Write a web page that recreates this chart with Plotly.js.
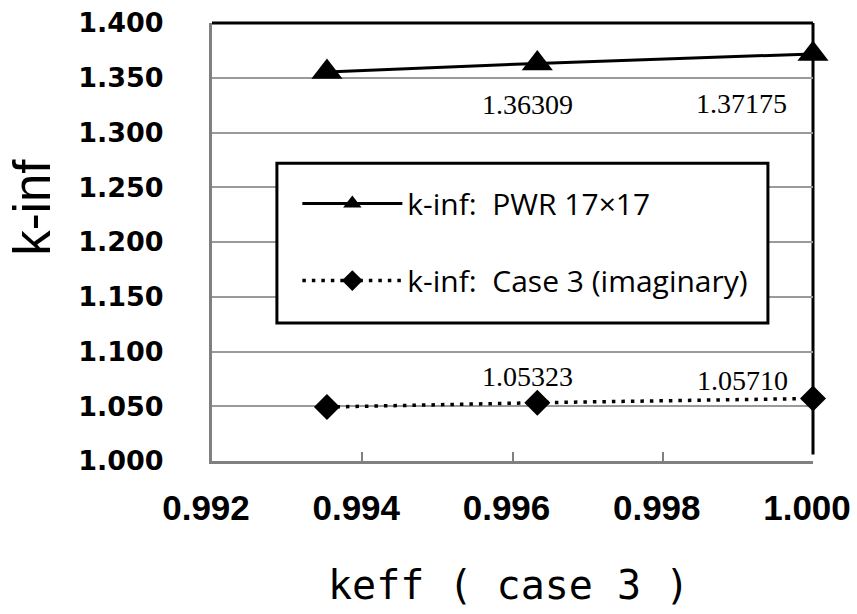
<!DOCTYPE html>
<html>
<head>
<meta charset="utf-8">
<script src="https://cdn.plot.ly/plotly-3.0.1.min.js"></script>
<style>html,body{margin:0;padding:0;background:#fff;}</style>
</head>
<body>
<div id="chart" style="width:857px;height:614px;"></div>
<script>
// Data
const keff = [0.99353, 0.99633, 1.00000];
const kinfPWR = [1.35530, 1.36309, 1.37175];
const kinfCase3 = [1.04930, 1.05323, 1.05710];
const seriesNames = ['k-inf:\u00a0 PWR 17×17', 'k-inf:\u00a0 Case 3 (imaginary)'];
const xTitle = 'keff ( case 3 )';
const yTitle = 'k-inf';

const traces = [
  {
    x: keff, y: kinfPWR, name: seriesNames[0], type: 'scatter', mode: 'lines+markers',
    line: {color: '#000', width: 3},
    marker: {symbol: 'triangle-up', size: 27, color: '#000'},
    cliponaxis: false, legendgroup: 'a'
  },
  {
    x: keff, y: kinfCase3, name: seriesNames[1], type: 'scatter', mode: 'lines+markers',
    line: {color: '#000', width: 3.5, dash: '3.5px,6px'},
    marker: {symbol: 'diamond', size: 20, color: '#000'},
    cliponaxis: false, legendgroup: 'b'
  }
];

const labelFont = {family: 'Liberation Serif, Times New Roman, serif', size: 28, color: '#000'};
const annotations = [
  {x: keff[1], y: kinfPWR[1], text: kinfPWR[1].toFixed(5), xshift: -10, yshift: -41},
  {x: keff[2], y: kinfPWR[2], text: kinfPWR[2].toFixed(5), xshift: -71, yshift: -50},
  {x: keff[1], y: kinfCase3[1], text: kinfCase3[1].toFixed(5), xshift: -10, yshift: 26},
  {x: keff[2], y: kinfCase3[2], text: kinfCase3[2].toFixed(5), xshift: -70, yshift: 18}
].map(a => Object.assign({xref: 'x', yref: 'y', showarrow: false, font: labelFont}, a));

annotations.push({
  xref: 'paper', yref: 'paper', x: -0.298, y: 0.58, text: yTitle, textangle: -90,
  showarrow: false, xanchor: 'center', yanchor: 'middle',
  font: {family: 'Liberation Sans, Arial, sans-serif', size: 51, color: '#000'}
});
annotations.push({
  xref: 'paper', yref: 'paper', x: 0.493, y: -0.283, text: xTitle,
  showarrow: false, xanchor: 'center', yanchor: 'middle',
  font: {family: 'DejaVu Sans Mono, monospace', size: 40, color: '#000'}
});

const layout = {
  width: 857, height: 614,
  margin: {l: 212, r: 44, t: 23, b: 153},
  paper_bgcolor: '#fff', plot_bgcolor: '#fff',
  showlegend: true,
  legend: {
    x: 0.142, y: 0.647, xanchor: 'left', yanchor: 'top',
    bgcolor: 'rgba(0,0,0,0)', borderwidth: 0,
    traceorder: 'grouped', tracegroupgap: 35, itemwidth: 100,
    font: {family: 'Open Sans, Noto Sans, sans-serif', size: 30, color: '#000'}
  },
  xaxis: {
    range: [0.992, 1.0000001], dtick: 0.002, tick0: 0.992, tickformat: '.3f',
    showgrid: false, zeroline: false,
    showline: true, linecolor: '#808080', linewidth: 3,
    ticks: 'inside', ticklen: 9, tickwidth: 2, tickcolor: '#808080',
    ticklabelstandoff: 14, ticklabelshift: -6,
    tickfont: {family: 'Liberation Sans, Arial, sans-serif', size: 35, color: '#000', weight: 'bold'}
  },
  yaxis: {
    range: [1.0, 1.4], dtick: 0.05, tick0: 1.0, tickformat: '.3f',
    showgrid: true, gridcolor: '#9a9a9a', gridwidth: 2, zeroline: false,
    showline: true, linecolor: '#808080', linewidth: 3,
    ticks: '', ticklabelstandoff: 40,
    tickfont: {family: 'DejaVu Sans, sans-serif', size: 27, color: '#000', weight: 'bold'}
  },
  shapes: [
    {type: 'line', xref: 'paper', yref: 'paper', x0: 0, x1: 1, y0: 1, y1: 1, line: {color: '#000', width: 3}},
    {type: 'line', xref: 'paper', yref: 'paper', x0: 1, x1: 1, y0: 0.015, y1: 1, line: {color: '#000', width: 3}, layer: 'below'},
    {type: 'rect', xref: 'paper', yref: 'paper', x0: 0.108, x1: 0.925, y0: 0.315, y1: 0.680,
     line: {color: '#000', width: 3}, fillcolor: '#fff'}
  ],
  annotations: annotations
};

Plotly.newPlot('chart', traces, layout, {displayModeBar: false, staticPlot: true});
</script>
</body>
</html>
